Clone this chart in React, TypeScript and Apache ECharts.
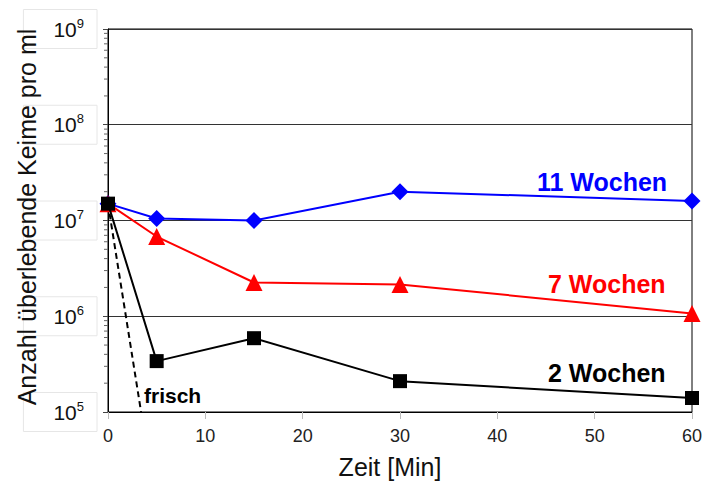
import React, { useEffect, useRef } from "react";
import * as echarts from "echarts";

const timesMin = [0, 5, 15, 30, 60];
const weeks11 = [1.5e7, 1.05e7, 1.0e7, 2.0e7, 1.6e7];
const weeks7 = [1.5e7, 6.8e6, 2.25e6, 2.15e6, 1.07e6];
const weeks2 = [1.5e7, 3.4e5, 5.9e5, 2.1e5, 1.4e5];
const freshTimes = [0, 3.4];
const freshValues = [1.5e7, 1e5];
const xTicks = [0, 10, 20, 30, 40, 50, 60];
const decades = [1e5, 1e6, 1e7, 1e8];
const minorMultipliers = [2, 3, 4, 5, 6, 7, 8, 9];
const seriesNames = ["11 Wochen", "7 Wochen", "2 Wochen", "frisch"];
const yAxisTitle = "Anzahl überlebende Keime pro ml";

const pairs = (xs: number[], ys: number[]) => xs.map((x, i) => [x, ys[i]]);
const minorTickData: number[][] = [];
decades.forEach((d) => minorMultipliers.forEach((m) => minorTickData.push([0, d * m])));

export default function App() {
  const ref = useRef<HTMLDivElement>(null);
  useEffect(() => {
    if (!ref.current) return;
    const chart = echarts.init(ref.current, null, { renderer: "svg" });
    const font = "Liberation Sans, Arial, sans-serif";
    chart.setOption({
      animation: false,
      backgroundColor: "#ffffff",
      textStyle: { fontFamily: font },
      grid: {
        left: 108, right: 10, top: 29, bottom: 70,
        containLabel: false, outerBoundsMode: "none",
        show: true, borderColor: "#000", borderWidth: 1,
      },
      xAxis: {
        type: "value",
        min: 0,
        max: 60,
        interval: 10,
        name: "Zeit [Min]",
        nameLocation: "middle",
        nameGap: 42,
        nameMoveOverlap: false,
        nameTextStyle: { fontSize: 25, color: "#111", fontFamily: font, padding: [0, 20, 0, 0] },
        axisLine: { lineStyle: { color: "#000", width: 1 } },
        axisTick: { show: true, length: 7, lineStyle: { color: "#bbbbbb" } },
        axisLabel: { fontSize: 18, color: "#222", margin: 15, formatter: (v: number) => (xTicks.includes(v) ? String(v) : "") },
        splitLine: { show: false },
      },
      yAxis: {
        type: "log",
        logBase: 10,
        min: 1e5,
        max: 1e9,
        axisLine: { show: true, lineStyle: { color: "#000", width: 1 } },
        axisTick: { show: true, length: 5, lineStyle: { color: "#444" } },
        splitLine: { show: true, lineStyle: { color: "#333", width: 1 } },
        axisLabel: {
          margin: 11,
          align: "right",
          padding: [7, 13, 7, 30],
          borderColor: "#e6e6e6",
          borderWidth: 1,
          formatter: (v: number) => "{b|10}{s|" + Math.round(Math.log10(v)) + "}",
          rich: {
            b: { fontSize: 21, lineHeight: 25, color: "#111", fontFamily: font },
            s: { fontSize: 13, lineHeight: 16, color: "#111", fontFamily: font, verticalAlign: "top" },
          },
        },
      },
      series: [
        {
          name: "minor",
          type: "custom",
          clip: false,
          silent: true,
          data: minorTickData,
          renderItem: (params: any, api: any) => {
            const p = api.coord([api.value(0), api.value(1)]);
            return {
              type: "line",
              shape: { x1: p[0] - 4, y1: p[1], x2: p[0], y2: p[1] },
              style: { stroke: "#666", lineWidth: 1 },
            };
          },
          z: 1,
        },
        {
          name: seriesNames[0],
          type: "line",
          data: pairs(timesMin, weeks11),
          symbol: "diamond",
          symbolSize: 17,
          lineStyle: { color: "#0000ff", width: 2 },
          itemStyle: { color: "#0000ff" },
          z: 3,
        },
        {
          name: seriesNames[1],
          type: "line",
          data: pairs(timesMin, weeks7),
          symbol: "triangle",
          symbolSize: 17,
          lineStyle: { color: "#ff0000", width: 2 },
          itemStyle: { color: "#ff0000" },
          z: 4,
        },
        {
          name: seriesNames[2],
          type: "line",
          data: pairs(timesMin, weeks2),
          symbol: "rect",
          symbolSize: 14,
          lineStyle: { color: "#000", width: 2 },
          itemStyle: { color: "#000" },
          z: 5,
        },
        {
          name: seriesNames[3],
          type: "line",
          data: pairs(freshTimes, freshValues),
          symbol: "none",
          lineStyle: { color: "#000", width: 2, type: [6, 4] },
          z: 2,
        },
      ],
      graphic: [
        {
          type: "text", x: 27, y: 217, rotation: Math.PI / 2, z: 100,
          style: { text: yAxisTitle, fill: "#111", font: "25px " + font, align: "center", verticalAlign: "middle" },
        },
        { type: "text", x: 537, y: 182, style: { text: seriesNames[0], fill: "#0000ff", font: "bold 25px " + font, verticalAlign: "middle" } },
        { type: "text", x: 548, y: 284, style: { text: seriesNames[1], fill: "#ff0000", font: "bold 25px " + font, verticalAlign: "middle" } },
        { type: "text", x: 548, y: 373, style: { text: seriesNames[2], fill: "#000", font: "bold 25px " + font, verticalAlign: "middle" } },
        { type: "text", x: 144, y: 395, style: { text: seriesNames[3], fill: "#000", font: "bold 21px " + font, verticalAlign: "middle" } },
      ],
    });
    return () => chart.dispose();
  }, []);
  return <div ref={ref} style={{ position: "fixed", left: 0, top: 0, width: 702, height: 482 }} />;
}
